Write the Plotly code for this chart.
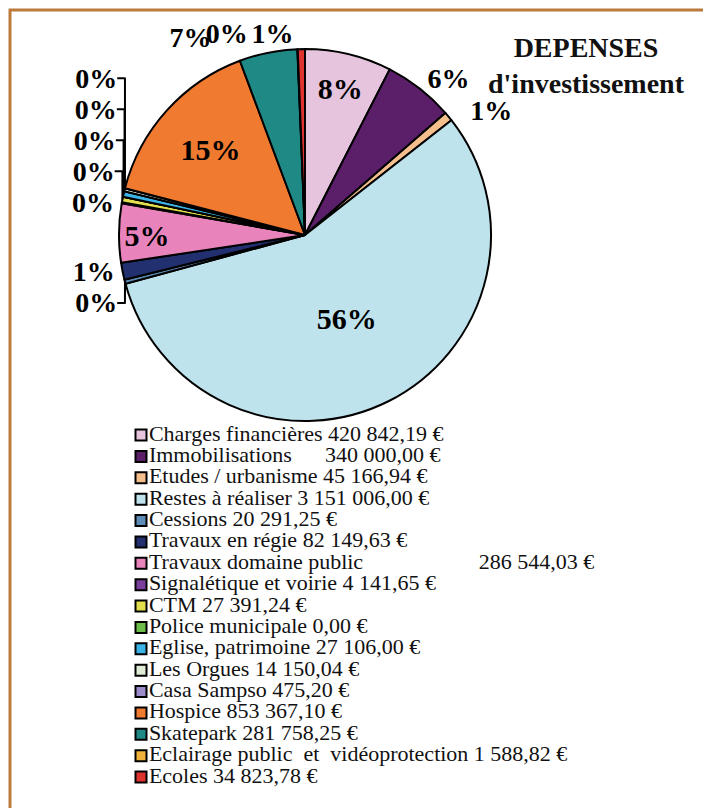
import plotly.graph_objects as go

# Dépenses d'investissement (€)
categories = [
    "Charges financières", "Immobilisations", "Etudes / urbanisme", "Restes à réaliser",
    "Cessions", "Travaux en régie", "Travaux domaine public", "Signalétique et voirie",
    "CTM", "Police municipale", "Eglise, patrimoine", "Les Orgues", "Casa Sampso",
    "Hospice", "Skatepark", "Eclairage public\u00a0 et\u00a0 vidéoprotection", "Ecoles",
]
amounts = [
    420842.19, 340000.00, 45166.94, 3151006.00,
    20291.25, 82149.63, 286544.03, 4141.65,
    27391.24, 0.00, 27106.00, 14150.04, 475.20,
    853367.10, 281758.25, 1588.82, 34823.78,
]
# percentage labels as printed on the original chart
pct_labels = [
    "8%", "6%", "1%", "56%",
    "0%", "1%", "5%", "0%",
    "0%", "", "0%", "0%", "0%",
    "15%", "7%", "0%", "1%",
]
colors = [
    "#e6c4dd", "#5a1f68", "#f4bf8c", "#bfe3ec",
    "#5d8db4", "#22306f", "#e884bb", "#7a3f9b",
    "#e2df4c", "#6dbd4b", "#3cb3e6", "#dfedd6", "#9c8bca",
    "#f07a30", "#1e8985", "#f0b23a", "#df3330",
]
inside = {0, 3, 6, 13}
# outside labels that get their own label layer so they are not stacked
# on top of each other (index -> layer)
label_layer = {2: 1, 15: 1, 16: 2}
# nudge a few labels sideways with non-breaking spaces
pad_after = {14: 7, 15: 6}
pad_before = {2: 2}
# wide gaps used in the original legend text
legend_gap = {1: 5, 6: 20}

def fmt_euro(v):
    s = f"{v:,.2f}".replace(",", " ").replace(".", ",")
    return s + " €"

legend_text = []
for i, (name, v) in enumerate(zip(categories, amounts)):
    gap = "\u00a0" * legend_gap.get(i, 0)
    legend_text.append(f"{name}{gap} {fmt_euro(v)}")

# page body adds an 8px margin, so the figure is sized to the visible window
OFF = 8
W, H = 711 - OFF, 808 - OFF
def px(x):
    return (x - OFF) / W
def py(y):
    return 1 - (y - OFF) / H

SERIF = "Liberation Serif, Times New Roman, serif"
NB = "\u00a0"
pie_domain = dict(x=[px(119), px(491)], y=[py(421), py(49)])

fig = go.Figure()

for layer in range(3):
    texts, positions = [], []
    for i, lab in enumerate(pct_labels):
        if lab and label_layer.get(i, 0) == layer:
            texts.append(NB * pad_before.get(i, 0) + lab + NB * pad_after.get(i, 0))
            positions.append("inside" if i in inside else "outside")
        else:
            texts.append("")
            positions.append("none")
    visible_slices = layer == 0
    fig.add_trace(go.Pie(
        labels=categories,
        values=amounts,
        text=texts,
        textinfo="text",
        textposition=positions,
        sort=False,
        direction="clockwise",
        rotation=0,
        marker=dict(
            colors=colors if visible_slices else ["rgba(0,0,0,0)"] * len(colors),
            line=dict(color="black", width=2 if visible_slices else 0),
        ),
        insidetextorientation="horizontal",
        insidetextfont=dict(family=SERIF, size=30, color="black", weight="bold"),
        outsidetextfont=dict(family=SERIF, size=28, color="black", weight="bold"),
        domain=pie_domain,
        showlegend=False,
        hoverinfo="label+value+percent" if visible_slices else "skip",
    ))

# legend drawn as a column of square markers with labels
fig.add_trace(go.Scatter(
    x=[0] * len(categories),
    y=list(range(len(categories))),
    mode="markers+text",
    marker=dict(symbol="square", size=11, color=colors, line=dict(color="black", width=2)),
    text=legend_text,
    textposition="middle right",
    textfont=dict(family=SERIF, size=22, color="#111111"),
    cliponaxis=False,
    showlegend=False,
    hoverinfo="skip",
))

fig.update_layout(
    width=W, height=H,
    margin=dict(l=0, r=0, t=0, b=0, autoexpand=False),
    paper_bgcolor="white",
    plot_bgcolor="white",
    xaxis=dict(domain=[px(141), 1], range=[0, 1], visible=False, fixedrange=True),
    yaxis=dict(domain=[py(777), py(435)], range=[16, 0], visible=False, fixedrange=True),
    annotations=[dict(
        text="<b>DEPENSES<br>d'investissement</b>",
        xref="paper", yref="paper", x=px(586), y=py(30),
        xanchor="center", yanchor="top", showarrow=False,
        font=dict(family=SERIF, size=28, color="#111111"),
    )],
    shapes=[dict(
        type="path", xref="paper", yref="paper",
        path=f"M {px(10)} 0 L {px(10)} {py(10)} L 1 {py(10)}",
        line=dict(color="#b97a3c", width=3),
    )],
)

fig.write_html("out.html")
